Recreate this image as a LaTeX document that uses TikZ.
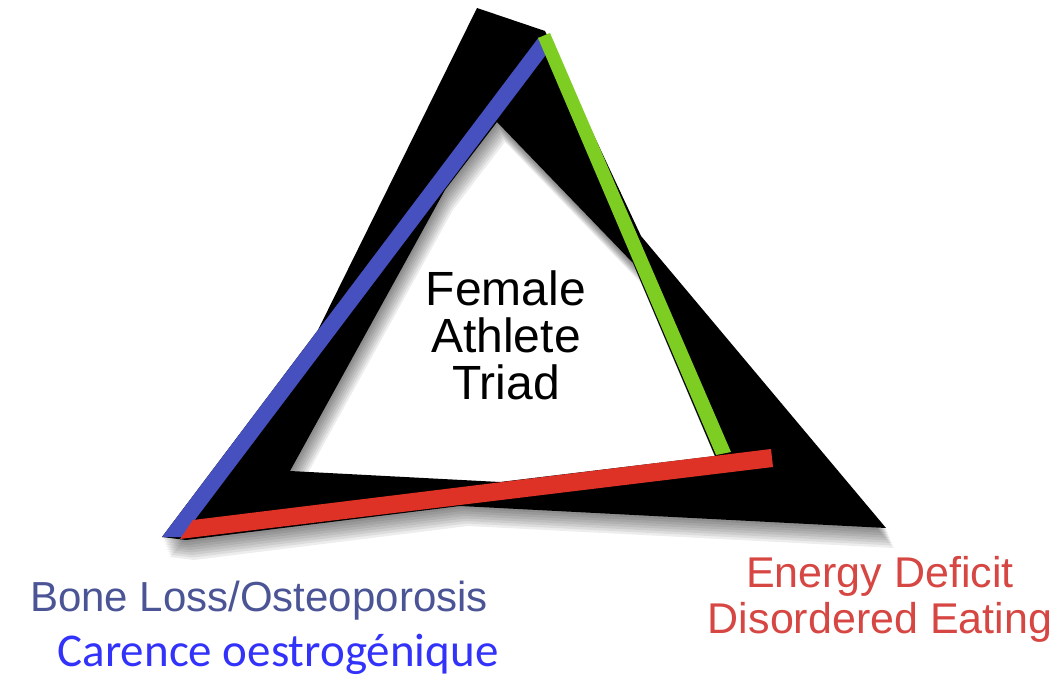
\documentclass[tikz,border=0pt]{standalone}
\usepackage{fontspec}
\setmainfont{Liberation Sans}
\newfontfamily\carlito{Carlito}
\usepackage{tikz}
\definecolor{triadblue}{RGB}{70,80,190}
\definecolor{triadgreen}{RGB}{125,205,35}
\definecolor{triadred}{RGB}{222,50,38}
\definecolor{bonetext}{RGB}{75,85,150}
\definecolor{energytext}{RGB}{214,70,66}
\definecolor{carencetext}{RGB}{50,50,250}
\newcommand{\triadshape}{(477,8) -- (545,31) -- (641,236) -- (886,528) -- (460,506) -- (186,540) -- (162,537) -- (318,330) -- cycle
  (497,122) -- (445,190) -- (290,471) -- (500,482) -- (715,456) -- (633,263) -- cycle}
\begin{document}
\begin{tikzpicture}[x=1pt,y=-1pt,
  label/.style={inner sep=0pt, align=center}]
\useasboundingbox (0,0) rectangle (1061,679);

\foreach \s in {2.5,5,...,20}
  \fill[black, opacity=0.07, even odd rule, shift={(0.4*\s,\s)}] \triadshape;
\fill[black, even odd rule] \triadshape;

\fill[triadblue] (162,537) -- (182,537) -- (548,52) -- (539,37) -- cycle;
\fill[triadgreen] (538,38) -- (550,33) -- (731,452) -- (716,455) -- cycle;
\fill[triadred] (193,520) -- (771,449) -- (773,467) -- (180,539) -- cycle;

\node[label, font=\fontsize{48}{47}\selectfont] (triad) at (506,335) {Female\\Athlete\\Triad};
\node[label, anchor=base, text=bonetext, font=\fontsize{42}{46}\selectfont] (bone) at (259,611) {Bone Loss/Osteoporosis};
\node[label, text=energytext, font=\fontsize{43}{46}\selectfont] (energy) at (880,599) {Energy Deficit\\Disordered Eating};
\node[label, anchor=base, text=carencetext, font=\carlito\fontsize{47}{50}\selectfont] (carence) at (278,666) {Carence oestrogénique};
\end{tikzpicture}
\end{document}
